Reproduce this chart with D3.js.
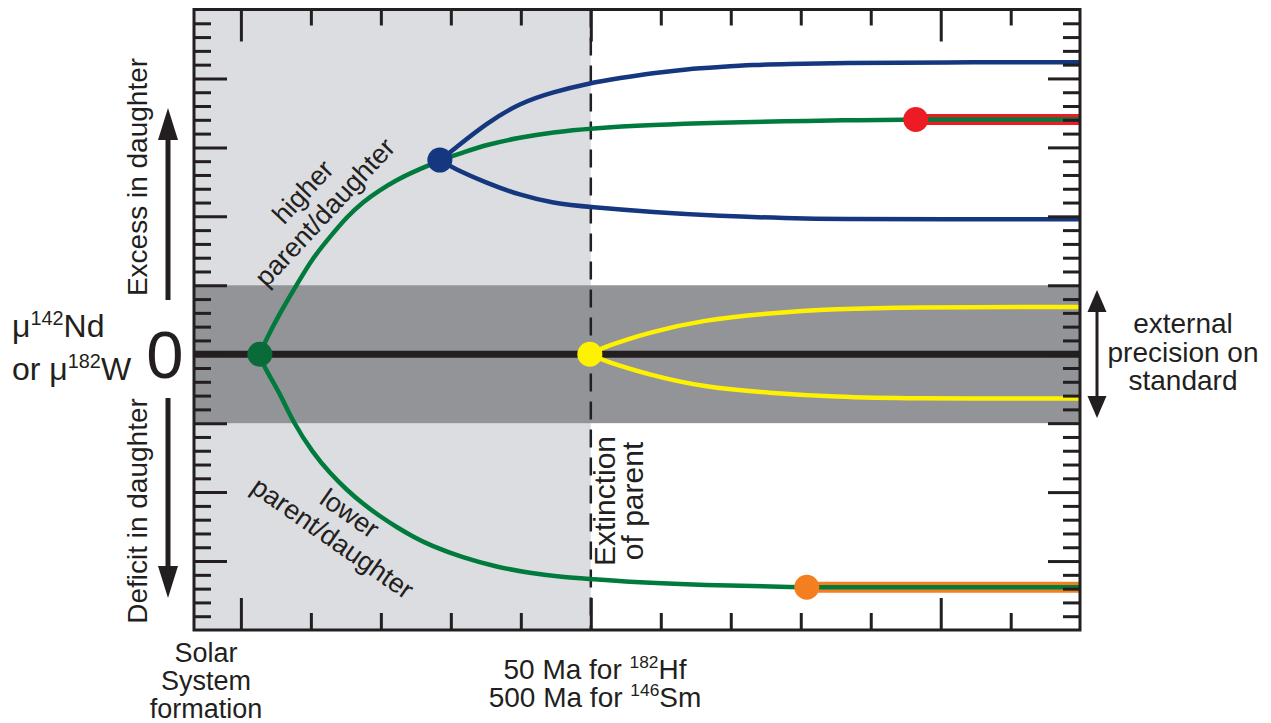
<!DOCTYPE html>
<html>
<head>
<meta charset="utf-8">
<script src="https://cdn.jsdelivr.net/npm/d3@7"></script>
<style>
body { margin: 0; background: #fff; }
text { font-family: "Liberation Sans", Arial, sans-serif; fill: #231f20; }
</style>
</head>
<body>
<div id="drawing"></div>
<script>
"use strict"

/**** DATA (x = time in Ma for 182Hf, y = mu anomaly) ****/

// origin -> blue point
let greenUpper = [
[2.71,0],[3.43,0.88],[5.57,2.99],[7.96,5.02],[10.29,7.0],[12.71,8.5],[15.14,9.96],
[17.43,11.04],[19.86,11.91],[22.29,12.64],[24.57,13.22],[27.0,13.72],[28.43,14.08]
]

// blue point -> red point
let greenMiddle = [
[28.43,14.08],[31.71,14.62],[35.14,15.2],[39.86,15.72],[44.57,16.1],[49.86,16.38],
[58.86,16.64],[68.43,16.8],[78.0,16.9],[85.57,16.96],[96.43,17.02]
]

// origin -> orange point
let greenLower = [
[2.71,0],[3.14,-0.78],[5.57,-2.81],[7.43,-4.91],[10.29,-7.16],[12.71,-8.62],[15.14,-9.85],
[17.43,-10.85],[19.86,-11.75],[22.29,-12.55],[24.57,-13.22],[27.0,-13.85],[31.71,-14.75],
[36.57,-15.43],[41.29,-15.87],[46.0,-16.16],[49.86,-16.3],[55.57,-16.52],[65.57,-16.74],
[80.86,-16.9]
]

let blueUpper = [
[28.43,14.08],[30.29,14.81],[35.14,16.77],[39.86,18.22],[44.57,19.01],[49.86,19.67],
[54.14,20.03],[58.86,20.39],[63.71,20.68],[68.43,20.83],[73.14,20.98],[78.0,21.05],
[85.57,21.12],[100,21.17],[119.9,21.17]
]

let blueLower = [
[28.43,14.08],[30.29,13.5],[35.14,12.41],[39.86,11.54],[44.57,10.96],[49.86,10.67],
[58.86,10.3],[68.43,10.02],[78.0,9.87],[85.57,9.8],[100,9.78],[119.9,9.78]
]

let yellowUpper = [
[49.86,0],[51.71,0.5],[58.43,1.61],[66.0,2.48],[75.57,2.99],[85.14,3.28],[94.57,3.42],[119.9,3.42]
]

let yellowLower = [
[49.86,0],[51.71,-0.45],[58.43,-1.51],[66.0,-2.38],[75.57,-2.81],[85.14,-3.1],[94.57,-3.22],[119.9,-3.22]
]

let redBand = [[96.43,17.02],[119.9,17.02]]
let orangeBand = [[80.86,-16.9],[119.9,-16.9]]

let dots = [
{name:"origin", x:2.71, y:0},
{name:"blue", x:28.43, y:14.08},
{name:"yellow", x:49.86, y:0},
{name:"orange", x:80.86, y:-16.9},
{name:"red", x:96.43, y:17.02}
]

let precisionBand = [-5, 5]
let extinctionAge = 50

let xMinor = [10,20,30,40,60,70,80,90,110]
let xMajor = [0,50,100]
let yMajor = [-15,-10,-5,0,5,10,15,20]
let yMinor = d3.range(-19,25).filter(v => v % 5 !== 0)


/**** CONFIGURATION ****/

let svgWidth = 1271
let svgHeight = 723

let plotLeft = 194
let plotRight = 1080
let plotTop = 9.5
let plotBottom = 630

let ink = "#231f20"
let green = "#007a3d"
let dotColor = {origin:"#0b6b38", blue:"#15377f", yellow:"#fff200", orange:"#f47f20", red:"#ed1c24"}


/**** CANVAS SETUP ****/

let svg = d3.select("#drawing")
.append("svg")
.attr("width", svgWidth)
.attr("height", svgHeight)

let xScale = d3.scaleLinear()
.domain([-6.7,119.9])
.range([plotLeft, plotRight])

let yScale = d3.scaleLinear()
.domain([-20,25])
.range([plotBottom, plotTop])

let line = d3.line()
.x(d=>xScale(d[0]))
.y(d=>yScale(d[1]))
.curve(d3.curveBasis)


/**** SHADING ****/

svg.append("rect")
.attr("x", plotLeft)
.attr("y", plotTop)
.attr("width", xScale(extinctionAge)-plotLeft)
.attr("height", plotBottom-plotTop)
.attr("fill", "#dcdde0")

svg.append("rect")
.attr("x", plotLeft)
.attr("y", yScale(precisionBand[1]))
.attr("width", plotRight-plotLeft)
.attr("height", yScale(precisionBand[0])-yScale(precisionBand[1]))
.attr("fill", "#929497")

svg.append("line")
.attr("x1", plotLeft).attr("x2", plotRight)
.attr("y1", yScale(0)).attr("y2", yScale(0))
.attr("stroke", ink)
.attr("stroke-width", 7)

svg.append("line")
.attr("x1", xScale(extinctionAge)).attr("x2", xScale(extinctionAge))
.attr("y1", plotTop).attr("y2", plotBottom)
.attr("stroke", ink)
.attr("stroke-width", 2.5)
.attr("stroke-dasharray", "18,10")


/**** CURVES ****/

svg.append("path").attr("d", line(redBand))
.attr("fill","none").attr("stroke", dotColor.red).attr("stroke-width", 11)

svg.append("path").attr("d", line(orangeBand))
.attr("fill","none").attr("stroke", dotColor.orange).attr("stroke-width", 11)

let curves = [
{pts:greenUpper, color:green},
{pts:greenMiddle, color:green},
{pts:greenLower, color:green},
{pts:redBand, color:green},
{pts:orangeBand, color:green},
{pts:blueUpper, color:"#15377f"},
{pts:blueLower, color:"#15377f"},
{pts:yellowUpper, color:"#fff200"},
{pts:yellowLower, color:"#fff200"}
]

svg.selectAll("path.curve")
.data(curves)
.join("path")
.attr("class","curve")
.attr("d", d=>line(d.pts))
.attr("fill","none")
.attr("stroke", d=>d.color)
.attr("stroke-width", 4.5)

svg.selectAll("circle")
.data(dots)
.join("circle")
.attr("cx", d=>xScale(d.x))
.attr("cy", d=>yScale(d.y))
.attr("r", 12.5)
.attr("fill", d=>dotColor[d.name])


/**** TICKS AND FRAME ****/

function ticks(axis, tx, ty){
    let g = svg.append("g")
    .attr("transform", "translate(" + tx + "," + ty + ")")
    .call(axis.tickFormat("").tickSizeOuter(0))
    g.select(".domain").remove()
    g.selectAll(".tick line").attr("stroke", ink).attr("stroke-width", 3)
}

ticks(d3.axisTop(xScale).tickValues(xMinor).tickSize(-16), 0, plotTop)
ticks(d3.axisTop(xScale).tickValues(xMajor).tickSize(-32), 0, plotTop)
ticks(d3.axisBottom(xScale).tickValues(xMinor).tickSize(-17), 0, plotBottom)
ticks(d3.axisBottom(xScale).tickValues(xMajor).tickSize(-32), 0, plotBottom)
ticks(d3.axisLeft(yScale).tickValues(yMinor).tickSize(-17), plotLeft, 0)
ticks(d3.axisLeft(yScale).tickValues(yMajor).tickSize(-33), plotLeft, 0)
ticks(d3.axisRight(yScale).tickValues(yMinor).tickSize(-17), plotRight, 0)
ticks(d3.axisRight(yScale).tickValues(yMajor).tickSize(-32), plotRight, 0)

svg.append("rect")
.attr("x", plotLeft)
.attr("y", plotTop)
.attr("width", plotRight-plotLeft)
.attr("height", plotBottom-plotTop)
.attr("fill","none")
.attr("stroke", ink)
.attr("stroke-width", 3)


/**** ARROWS ****/

function arrowHead(x, y, dir, len, half){
    svg.append("path")
    .attr("d", "M" + x + "," + y + "L" + (x-half) + "," + (y+dir*len) + "L" + (x+half) + "," + (y+dir*len) + "Z")
    .attr("fill", ink)
}

svg.append("line").attr("x1",168).attr("x2",168).attr("y1",300).attr("y2",130)
.attr("stroke", ink).attr("stroke-width", 5)
arrowHead(168, 108, 1, 32, 10)

svg.append("line").attr("x1",168).attr("x2",168).attr("y1",398).attr("y2",570)
.attr("stroke", ink).attr("stroke-width", 5)
arrowHead(168, 598, -1, 32, 10)

svg.append("line").attr("x1",1097).attr("x2",1097).attr("y1",305).attr("y2",403)
.attr("stroke", ink).attr("stroke-width", 3)
arrowHead(1097, 290, 1, 22, 9.5)
arrowHead(1097, 418, -1, 22, 9.5)


/**** LABELS ****/

function rotatedLines(tx, ty, angle, lines, size, gap){
    let g = svg.append("g")
    .attr("transform", "translate(" + tx + "," + ty + ") rotate(" + angle + ")")
    lines.forEach(function(s, i){
        g.append("text")
        .attr("x", 0)
        .attr("y", i*gap)
        .style("text-anchor","middle")
        .style("font-size", size + "px")
        .text(s)
    })
}

rotatedLines(147, 177, -90, ["Excess in daughter"], 28, 0)
rotatedLines(147, 511, -90, ["Deficit in daughter"], 28, 0)
rotatedLines(309.6, 198, -47, ["higher", "parent/daughter"], 27, 30)
rotatedLines(344.5, 521, 35, ["lower", "parent/daughter"], 27, 30)
rotatedLines(615, 501, -90, ["Extinction", "of parent"], 30, 28)

let precisionText = ["external", "precision on", "standard"]
precisionText.forEach(function(s, i){
    svg.append("text")
    .attr("x", 1183)
    .attr("y", 333 + i*28.5)
    .style("text-anchor","middle")
    .style("font-size","28px")
    .text(s)
})

let solarText = ["Solar", "System", "formation"]
solarText.forEach(function(s, i){
    svg.append("text")
    .attr("x", 206)
    .attr("y", 662 + i*28)
    .style("text-anchor","middle")
    .style("font-size","27px")
    .text(s)
})

svg.append("text")
.attr("x", 165)
.attr("y", 378)
.style("text-anchor","middle")
.style("font-size","67px")
.text("0")

function isotopeLine(x, y, anchor, parts, size){
    let t = svg.append("text")
    .attr("x", x)
    .attr("y", y)
    .style("text-anchor", anchor)
    .style("font-size", size + "px")
    parts.forEach(function(p){
        if(p.sup){
            t.append("tspan").attr("dy", -size*0.38).style("font-size", (size*0.62) + "px").text(p.sup)
            t.append("tspan").attr("dy", size*0.38).text(p.after)
        }else{
            t.append("tspan").text(p.text)
        }
    })
}

isotopeLine(12, 337, "start", [{text:"\u03bc"}, {sup:"142", after:"Nd"}], 32)
isotopeLine(12, 380, "start", [{text:"or \u03bc"}, {sup:"182", after:"W"}], 32)
isotopeLine(595, 679, "middle", [{text:"50 Ma for "}, {sup:"182", after:"Hf"}], 28)
isotopeLine(595, 707, "middle", [{text:"500 Ma for "}, {sup:"146", after:"Sm"}], 28)
</script>
</body>
</html>
